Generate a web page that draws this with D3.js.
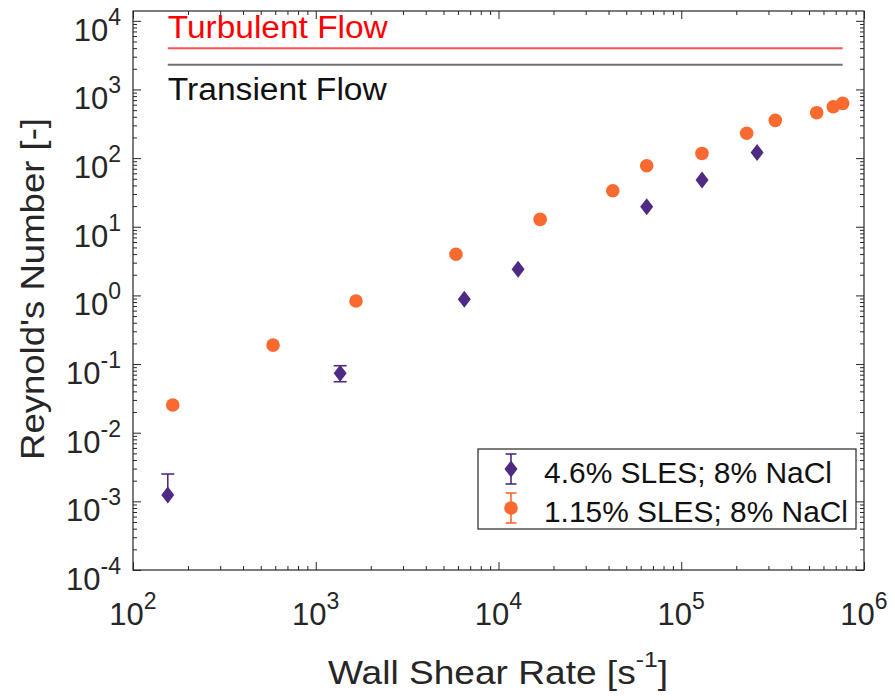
<!DOCTYPE html>
<html><head><meta charset="utf-8">
<script src="https://cdn.jsdelivr.net/npm/d3@7/dist/d3.min.js"></script>
<style>
body{margin:0;background:#fff}
text{font-family:"Liberation Sans",Arial,Helvetica,sans-serif;fill:#262626}
</style>
</head><body>
<svg id="chart" width="895" height="700"></svg>
<script>
// ---- data ----
const seriesNames = ["4.6% SLES; 8% NaCl", "1.15% SLES; 8% NaCl"];
const shearSLES46 = [155, 1360, 6500, 12800, 64700, 130000, 260000];
const reSLES46    = [0.00124, 0.0733, 0.877, 2.40, 19.6, 48, 121];
const errLowSLES46  = [null, 0.0553, null, null, null, null, null];
const errHighSLES46 = [0.0025, 0.0946, null, null, null, null, null];
const shearSLES115 = [165, 584, 1660, 5850, 16900, 42200, 64700, 129800, 228000, 327000, 551000, 679000, 764000];
const reSLES115    = [0.0253, 0.189, 0.83, 3.97, 12.8, 33.5, 77.5, 117, 230, 355, 459, 561, 628];
const regimeNames = ["Turbulent Flow", "Transient Flow"];
const regimeRe = [4000, 2300];
const xTickExps = [2, 3, 4, 5, 6];
const yTickExps = [-4, -3, -2, -1, 0, 1, 2, 3, 4];
const xLabel = "Wall Shear Rate [s";
const yLabel = "Reynold's Number [-]";

// ---- layout ----
const C_PURPLE = "#4E2A84", C_ORANGE = "#F96A30", C_AX = "#262626";
const svg = d3.select("#chart");
const L = 133, R = 864, T = 11, B = 570;
const x = d3.scaleLog().domain([1e2, 1e6]).range([L, R]);
const y = d3.scaleLog().domain([1e-4, Math.pow(10, 4.143)]).range([B, T]);

const majX = xTickExps.map(e => Math.pow(10, e));
const majY = yTickExps.map(e => Math.pow(10, e));
const minX = [], minY = [];
for (let e = 2; e < 6; e++) for (let m = 2; m <= 9; m++) minX.push(m * Math.pow(10, e));
for (let e = -4; e < 5; e++) for (let m = 2; m <= 9; m++) { const v = m * Math.pow(10, e); if (v <= y.domain()[1]) minY.push(v); }

function tickAxis(axisFn, scale, vals, size, tr) {
  const g = svg.append("g").attr("transform", tr)
    .call(axisFn(scale).tickValues(vals).tickSize(size).tickFormat(""));
  g.select(".domain").remove();
  g.selectAll("line").attr("stroke", C_AX).attr("stroke-width", 1);
}
// ticks pointing inward on all four sides
tickAxis(d3.axisBottom, x, majX, -8, `translate(0,${B})`);
tickAxis(d3.axisBottom, x, minX, -4, `translate(0,${B})`);
tickAxis(d3.axisTop, x, majX, -8, `translate(0,${T})`);
tickAxis(d3.axisTop, x, minX, -4, `translate(0,${T})`);
tickAxis(d3.axisLeft, y, majY, -8, `translate(${L},0)`);
tickAxis(d3.axisLeft, y, minY, -4, `translate(${L},0)`);
tickAxis(d3.axisRight, y, majY, -8, `translate(${R},0)`);
tickAxis(d3.axisRight, y, minY, -4, `translate(${R},0)`);

svg.append("rect").attr("x", L).attr("y", T).attr("width", R - L).attr("height", B - T)
  .attr("fill", "none").attr("stroke", C_AX).attr("stroke-width", 1.2);

// tick labels
xTickExps.forEach(e => {
  const t = svg.append("text").attr("x", x(Math.pow(10, e))).attr("y", B + 55)
    .attr("text-anchor", "middle").style("font-size", "31px");
  t.append("tspan").text("10");
  t.append("tspan").attr("dy", -16).style("font-size", "23px").text(String(e));
});
yTickExps.forEach(e => {
  const t = svg.append("text").attr("x", 121).attr("y", y(Math.pow(10, e)) + 20)
    .attr("text-anchor", "end").style("font-size", "31px");
  t.append("tspan").text("10");
  t.append("tspan").attr("dy", -16).style("font-size", "23px").text(String(e));
});

// axis labels
const xl = svg.append("text").attr("x", 328).attr("y", 684).style("font-size", "33px")
  .attr("textLength", 340).attr("lengthAdjust", "spacingAndGlyphs");
xl.append("tspan").text(xLabel);
xl.append("tspan").attr("dy", -17).style("font-size", "22px").text("-1");
xl.append("tspan").attr("dy", 17).text("]");

svg.append("text").attr("transform", `translate(44,289) rotate(-90)`)
  .attr("text-anchor", "middle").style("font-size", "33px")
  .attr("textLength", 342).attr("lengthAdjust", "spacingAndGlyphs").text(yLabel);

// regime lines
const allX = shearSLES46.concat(shearSLES115);
const xExt = d3.extent(allX);
const regimeColors = ["#FF5050", "#707070"];
const regimeTextColors = ["#FF0000", "#111111"];
regimeRe.forEach((v, i) => {
  svg.append("line").attr("x1", x(xExt[0])).attr("x2", x(xExt[1]))
    .attr("y1", y(v)).attr("y2", y(v)).attr("stroke", regimeColors[i]).attr("stroke-width", 2);
});
svg.append("text").attr("x", x(xExt[0])).attr("y", y(regimeRe[0]) - 10)
  .style("font-size", "31px").style("fill", regimeTextColors[0])
  .attr("textLength", 220).attr("lengthAdjust", "spacingAndGlyphs").text(regimeNames[0]);
svg.append("text").attr("x", x(xExt[0])).attr("y", y(regimeRe[1]) + 35)
  .style("font-size", "31px").style("fill", regimeTextColors[1])
  .attr("textLength", 219).attr("lengthAdjust", "spacingAndGlyphs").text(regimeNames[1]);

// error bars (purple)
const cap = 6.5;
shearSLES46.forEach((sx, i) => {
  const cx = x(sx);
  const hi = errHighSLES46[i], lo = errLowSLES46[i];
  if (hi == null && lo == null) return;
  const yTop = hi != null ? y(hi) : y(reSLES46[i]);
  const yBot = lo != null ? y(lo) : y(reSLES46[i]);
  const g = svg.append("g").attr("stroke", C_PURPLE).attr("stroke-width", 1.6);
  g.append("line").attr("x1", cx).attr("x2", cx).attr("y1", yTop).attr("y2", yBot);
  if (hi != null) g.append("line").attr("x1", cx - cap).attr("x2", cx + cap).attr("y1", yTop).attr("y2", yTop);
  if (lo != null) g.append("line").attr("x1", cx - cap).attr("x2", cx + cap).attr("y1", yBot).attr("y2", yBot);
});

const diamond = "M0,-8.5L6.5,0L0,8.5L-6.5,0Z";
svg.append("g").selectAll("path").data(shearSLES46.map((s, i) => [s, reSLES46[i]])).join("path")
  .attr("d", diamond).attr("transform", d => `translate(${x(d[0])},${y(d[1])})`)
  .attr("fill", C_PURPLE);
svg.append("g").selectAll("circle").data(shearSLES115.map((s, i) => [s, reSLES115[i]])).join("circle")
  .attr("cx", d => x(d[0])).attr("cy", d => y(d[1])).attr("r", 6.8).attr("fill", C_ORANGE);

// legend
const lg = svg.append("g");
lg.append("rect").attr("x", 478).attr("y", 449).attr("width", 378).attr("height", 80)
  .attr("fill", "#fff").attr("stroke", C_AX).attr("stroke-width", 1.2);
const legendRows = [
  { name: seriesNames[0], color: C_PURPLE, cy: 469, top: 454, bot: 484, shape: "d", w: 288 },
  { name: seriesNames[1], color: C_ORANGE, cy: 508, top: 493, bot: 523, shape: "c", w: 304 }
];
legendRows.forEach(r => {
  const g = lg.append("g").attr("stroke", r.color).attr("stroke-width", 1.6);
  g.append("line").attr("x1", 511).attr("x2", 511).attr("y1", r.top).attr("y2", r.bot);
  g.append("line").attr("x1", 505.5).attr("x2", 516.5).attr("y1", r.top).attr("y2", r.top);
  g.append("line").attr("x1", 505.5).attr("x2", 516.5).attr("y1", r.bot).attr("y2", r.bot);
  if (r.shape === "d") lg.append("path").attr("d", diamond).attr("transform", `translate(511,${r.cy})`).attr("fill", r.color);
  else lg.append("circle").attr("cx", 511).attr("cy", r.cy).attr("r", 6.8).attr("fill", r.color);
  lg.append("text").attr("x", 544).attr("y", r.cy + 14).style("font-size", "29px")
    .style("fill", "#111")
    .attr("textLength", r.w).attr("lengthAdjust", "spacingAndGlyphs").text(r.name);
});
</script>
</body></html>
